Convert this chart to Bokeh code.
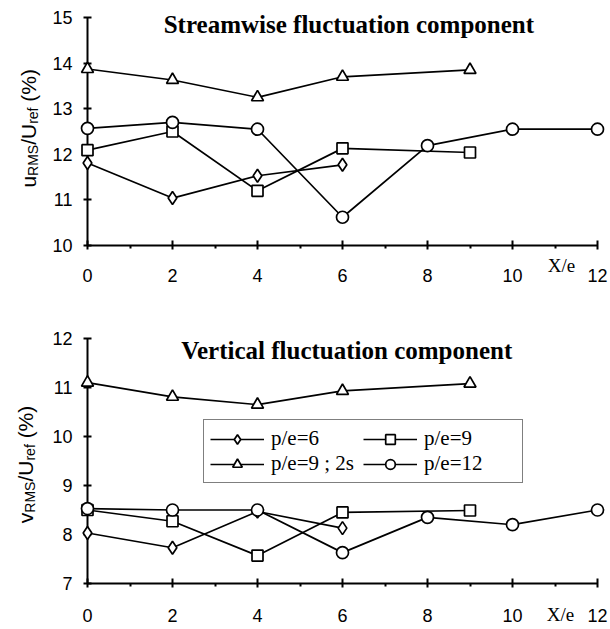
import math
from bokeh.plotting import figure
from bokeh.layouts import column
from bokeh.models import Legend, LegendItem, FixedTicker, Range1d
from bokeh.core.properties import value
from bokeh.embed import file_html
from bokeh.resources import INLINE

# ---------------- data ----------------
x_ticks = [0, 2, 4, 6, 8, 10, 12]
x_minor = [1, 3, 5, 7, 9, 11]
u_ticks = [10, 11, 12, 13, 14, 15]
v_ticks = [7, 8, 9, 10, 11, 12]

x_p6 = [0, 2, 4, 6]
x_p9 = [0, 2, 4, 6, 9]
x_p9s = [0, 2, 4, 6, 9]
x_p12 = [0, 2, 4, 6, 8, 10, 12]

u_p6 = [11.81, 11.04, 11.53, 11.77]
u_p9 = [12.09, 12.50, 11.20, 12.13, 12.04]
u_p9s = [13.87, 13.63, 13.25, 13.70, 13.85]
u_p12 = [12.57, 12.70, 12.55, 10.62, 12.19, 12.55, 12.55]

v_p6 = [8.03, 7.73, 8.47, 8.13]
v_p9 = [8.50, 8.27, 7.57, 8.45, 8.49]
v_p9s = [11.10, 10.81, 10.65, 10.93, 11.08]
v_p12 = [8.53, 8.50, 8.50, 7.63, 8.35, 8.20, 8.50]

series_labels = ["p/e=6", "p/e=9", "p/e=9 ; 2s", "p/e=12"]
title_u = "Streamwise fluctuation component"
title_v = "Vertical fluctuation component"
x_title = "X/e"

# ---------------- styling helpers ----------------
SANS = "Liberation Sans"
SERIF = "Liberation Serif"
NBSP = "\u00a0"

ARIAL_W = {"u": .556, "v": .5, "R": .722, "M": .833, "S": .667, "/": .278, "U": .722,
           "r": .333, "e": .556, "f": .278, " ": .278, NBSP: .278, "(": .333, "%": .889,
           ")": .333}


def text_w(s, size):
    return sum(ARIAL_W.get(c, .55) for c in s) * size


def make_fig(yr, yticks, border_top, frame_h, border_bottom, x_standoff):
    p = figure(output_backend="svg", toolbar_location=None,
               frame_width=510, frame_height=frame_h,
               x_range=Range1d(0, 12), y_range=Range1d(*yr),
               min_border_left=87, min_border_right=13,
               min_border_top=border_top, min_border_bottom=border_bottom)
    p.outline_line_color = None
    p.grid.visible = False
    p.background_fill_color = "white"
    p.border_fill_color = "white"

    xa = p.xaxis[0]
    xa.ticker = FixedTicker(ticks=x_ticks, minor_ticks=x_minor)
    xa.axis_line_width = 2
    xa.axis_line_color = "black"
    xa.major_tick_line_width = 2
    xa.major_tick_in = 5
    xa.major_tick_out = 4
    xa.minor_tick_line_width = 2
    xa.minor_tick_in = 0
    xa.minor_tick_out = 3
    xa.major_label_standoff = x_standoff
    xa.major_label_text_font = SANS
    xa.major_label_text_font_size = "18px"
    xa.major_label_text_color = "black"

    ya = p.yaxis[0]
    ya.ticker = FixedTicker(ticks=yticks)
    ya.axis_line_width = 2
    ya.axis_line_color = "black"
    ya.major_tick_line_width = 2
    ya.major_tick_in = 4
    ya.major_tick_out = 4
    ya.minor_tick_line_color = None
    ya.major_label_standoff = 11
    ya.major_label_text_font = SANS
    ya.major_label_text_font_size = "18px"
    ya.major_label_text_color = "black"
    return p


def add_series(p, xs, ys, marker, size):
    lr = p.line(xs, ys, line_color="black", line_width=1.7, level="overlay")
    sr = p.scatter(xs, ys, marker=marker, size=size,
                   fill_color="white", line_color="black", line_width=1.7, level="overlay")
    return [lr, sr]


def put_text(p, x, y, s, size, font, style="normal", angle=0.0, dx=0, align="center",
             baseline="middle"):
    p.text(x=[x], y=[y], text=[s], angle=angle, x_offset=dx,
           text_align=align, text_baseline=baseline,
           text_font=value(font), text_font_style=style, text_font_size=f"{size}px",
           text_color="black", level="overlay")


def add_ylabel(p, x, yc, first, ppu):
    pieces = [(first, 21, 0), ("RMS", 14, 4), ("/U", 21, 0), ("ref", 14, 4),
              (NBSP + "(%)", 21, 0)]
    total = sum(text_w(s, f) for s, f, _ in pieces)
    off = -total / 2
    for s, f, dx in pieces:
        put_text(p, x, yc + off / ppu, s, f, SANS, angle=math.pi / 2, dx=dx,
                 align="left", baseline="alphabetic")
        off += text_w(s, f)


# ---------------- top panel ----------------
p1 = make_fig((10, 15), u_ticks, 17, 228, 55, 19)
add_series(p1, x_p6, u_p6, "diamond", 13)
add_series(p1, x_p9, u_p9, "square", 11)
add_series(p1, x_p9s, u_p9s, "triangle", 12)
add_series(p1, x_p12, u_p12, "circle", 12)
put_text(p1, 6.15, 14.85, title_u, 25, SERIF, style="bold")
put_text(p1, 11.15, 9.56, x_title, 19, SERIF)
add_ylabel(p1, -1.38, 12.57, "u", 45.6)

# ---------------- bottom panel ----------------
p2 = make_fig((7, 12), v_ticks, 38, 245, 46, 21)
r6 = add_series(p2, x_p6, v_p6, "diamond", 13)
r9 = add_series(p2, x_p9, v_p9, "square", 11)
r9s = add_series(p2, x_p9s, v_p9s, "triangle", 12)
r12 = add_series(p2, x_p12, v_p12, "circle", 12)
put_text(p2, 6.1, 11.75, title_v, 25, SERIF, style="bold")
put_text(p2, 11.13, 6.37, x_title, 19, SERIF)
add_ylabel(p2, -1.45, 9.43, "v", 49.0)

legend = Legend(items=[LegendItem(label=series_labels[0], renderers=r6),
                       LegendItem(label=series_labels[1], renderers=r9),
                       LegendItem(label=series_labels[2], renderers=r9s),
                       LegendItem(label=series_labels[3], renderers=r12)],
                location=(116, 100), orientation="horizontal", ncols=2,
                glyph_width=54, glyph_height=24, label_height=24, label_width=92,
                spacing=0, padding=6, margin=0, label_standoff=7,
                label_text_font=SERIF, label_text_font_size="21px", label_text_color="black",
                border_line_color="black", border_line_width=1.5,
                background_fill_color="white", background_fill_alpha=1.0)
p2.add_layout(legend)

layout = column(p1, p2, spacing=0)
open("out.html", "w").write(file_html(layout, INLINE))
